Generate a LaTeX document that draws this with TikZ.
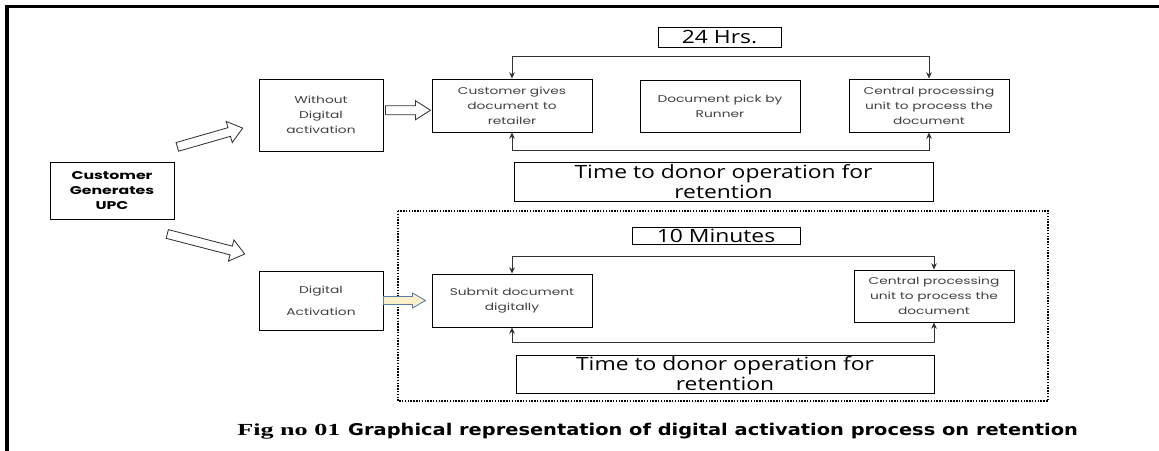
\documentclass[tikz,border=0pt]{standalone}
\usepackage{fontspec}
\setmainfont{Liberation Serif}
\newfontfamily\boxfont[FakeStretch=1.4]{Poppins}
\newfontfamily\bigfont[FakeStretch=1.25]{Open Sans}
\newfontfamily\capfont[FakeStretch=1.2]{DejaVu Sans}
\newfontfamily\figfont[FakeStretch=1.55]{Liberation Serif}
\usetikzlibrary{arrows.meta,calc}

\tikzset{
  stepbox/.style={draw, line width=0.6pt, align=center, inner sep=0pt,
    font=\boxfont\fontsize{7}{10.6}\selectfont, text=black!75},
  timebox/.style={draw, line width=0.6pt, align=center, inner sep=0pt,
    font=\bigfont\fontsize{13}{14.2}\selectfont},
  link/.style={line width=0.6pt, black!80,
    {Stealth[length=4.5pt,width=4pt]}-{Stealth[length=4.5pt,width=4pt]}},
  hollow/.style={draw=black!80, line width=0.6pt, fill=white},
}

\begin{document}
\begin{tikzpicture}[x=0.025cm,y=-0.025cm]
    \useasboundingbox (0,0) rectangle (1159,451);

    % Frame (top and left edge)
    \draw[line width=2.8pt] (7,451) -- (7,6.5) -- (1159,6.5);

    % Start
    \node[stepbox, minimum width=3.1cm, minimum height=1.425cm, text=black,
      font=\boxfont\bfseries\fontsize{8}{10.6}\selectfont] (upc) at (112,190.5) {Customer\\Generates\\UPC};

    % Without digital activation
    \node[stepbox, minimum width=3.1cm, minimum height=1.8cm] (without) at (321,115) {Without\\Digital\\activation};
    \node[stepbox, minimum width=4cm, minimum height=1.325cm] (give) at (512,105.5) {Customer gives\\document to\\retailer};
    \node[stepbox, minimum width=4cm, minimum height=1.3cm] (runner) at (720,106) {Document pick by\\Runner};
    \node[stepbox, minimum width=4cm, minimum height=1.325cm] (cpu1) at (929,105.5) {Central processing\\unit to process the\\document};
    \node[timebox, minimum width=3.075cm, minimum height=0.5cm] (hrs) at (719.5,37) {24 Hrs.};
    \node[timebox, minimum width=10.475cm, minimum height=0.975cm] (time1) at (723.5,181.5) {Time to donor operation for\\retention};

    \draw[link] (give.north) -- ++(0,-22) -| (cpu1.north);
    \draw[link] (give.south) -- ++(0,18) -| (cpu1.south);

    % Digital activation
    \draw[line width=1pt, densely dotted] (398,211) rectangle (1048,401);
    \node[stepbox, minimum width=3.1cm, minimum height=1.475cm,
      font=\boxfont\fontsize{7}{15.6}\selectfont] (digital) at (321,300.5) {Digital\\Activation};
    \node[stepbox, minimum width=4cm, minimum height=1.325cm] (submit) at (512,300.5) {Submit document\\digitally};
    \node[stepbox, minimum width=4cm, minimum height=1.3cm] (cpu2) at (934,296) {Central processing\\unit to process the\\document};
    \node[timebox, minimum width=4.2cm, minimum height=0.425cm] (mins) at (716,235.5) {10 Minutes};
    \node[timebox, minimum width=10.45cm, minimum height=0.95cm] (time2) at (725,374) {Time to donor operation for\\retention};

    \draw[link] (submit.north) -- ++(0,-17) -| (cpu2.north);
    \draw[link] (submit.south) -- ++(0,15) -| (cpu2.south);

    % Block arrows
    \foreach \cx/\cy/\ang/\len in {210/137.5/16/68, 206/244/-14.5/80} {
      \begin{scope}[shift={(\cx,\cy)}, rotate=\ang]
        \draw[hollow] (-\len/2,-4.5) -- (\len/2-14,-4.5) -- (\len/2-14,-11) -- (\len/2,0)
          -- (\len/2-14,11) -- (\len/2-14,4.5) -- (-\len/2,4.5) -- cycle;
      \end{scope}
    }
    \begin{scope}[shift={($(without.east)!0.5!(give.west)$)}]
      \draw[hollow] (-22,-4.5) -- (8,-4.5) -- (8,-9.5) -- (23,0) -- (8,9.5) -- (8,4.5) -- (-22,4.5) -- cycle;
    \end{scope}
    \begin{scope}[shift={($(digital.east)!0.5!(submit.west)$)}]
      \draw[draw={rgb,255:red,84;green,126;blue,170}, line width=0.6pt, fill={rgb,255:red,253;green,240;blue,200}]
        (-24,-4) -- (5,-4) -- (5,-7.5) -- (18,0) -- (5,7.5) -- (5,4) -- (-24,4) -- cycle;
    \end{scope}

    % Caption
    \node[anchor=base west, inner sep=0pt] (caption) at (237,436)
      {{\figfont\bfseries\fontsize{12}{13}\selectfont Fig no 01}\hspace{3pt} {\capfont\bfseries\fontsize{11.5}{13}\selectfont Graphical representation of digital activation process on retention}};
\end{tikzpicture}
\end{document}
